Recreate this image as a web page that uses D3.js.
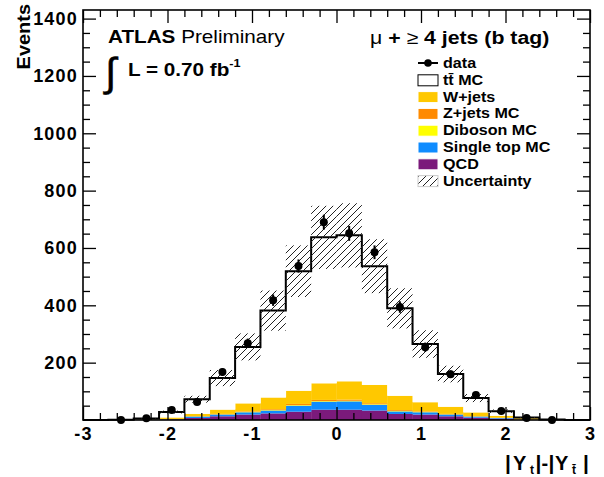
<!DOCTYPE html>
<html>
<head>
<meta charset="utf-8">
<script src="https://cdn.jsdelivr.net/npm/d3@7"></script>
<style>
  body { margin: 0; background: #fff; }
  text { font-family: "Liberation Sans", Arial, sans-serif; }
</style>
</head>
<body>
<div class="chart"></div>
<script>
// bin centers of |Y_t|-|Y_tbar|, width 0.3
const binCenters = [-2.85, -2.55, -2.25, -1.95, -1.65, -1.35, -1.05, -0.75, -0.45, -0.15,
  0.15, 0.45, 0.75, 1.05, 1.35, 1.65, 1.95, 2.25, 2.55, 2.85];
const binWidth = 0.3;

const qcd       = [0, 0, 0, 2, 7, 13, 19, 23, 29, 36, 36, 33, 21, 19, 13, 8, 5, 1, 0, 0];
const singleTop = [0, 0, 0, 1, 5, 6, 8, 10, 21, 28, 29, 20, 9, 8, 6, 4, 2, 0, 0, 0];
const diboson   = [0, 0, 0.3, 0.3, 0.5, 0.7, 1, 1.5, 2, 2, 2, 2, 1.5, 1, 0.7, 0.5, 0.3, 0.2, 0, 0];
const zjets     = [0, 0, 0.5, 0.5, 1, 1.5, 2, 3, 4, 4, 4, 3.5, 3, 2, 1.5, 1, 0.5, 0.3, 0, 0];
const wjets     = [0, 0.5, 1, 5, 8, 15, 28, 41, 46, 58, 64, 64, 50, 32, 25, 13, 7, 5, 1, 0];
const ttbar     = [0, 0.5, 3, 19, 51, 110, 197, 303, 417, 509, 509, 414, 305, 203, 114, 50, 16, 2, 1, 0];

const dataCounts = [null, 0, 6, 35, 63, 167, 268, 418, 537, 690, 651, 585, 394, 254, 160, 87, 31, 7, 0, null];
const dataErr    = [0, 0, 2, 6, 8, 13, 16, 20, 23, 26, 26, 24, 20, 16, 13, 9, 6, 3, 0, 0];
const uncert     = [0, 0.2, 1, 5, 12, 28, 47, 70, 90, 110, 112, 94, 70, 48, 29, 14, 6, 2, 1, 0];

const yTicks = [200, 400, 600, 800, 1000, 1200, 1400];
const xTicks = [-3, -2, -1, 0, 1, 2, 3];

const seriesKeys = ['qcd', 'singleTop', 'diboson', 'zjets', 'wjets', 'ttbar'];
const seriesColors = {
  qcd: '#7b1a7b', singleTop: '#0f8cff', diboson: '#ffff00',
  zjets: '#ff8a00', wjets: '#ffc800', ttbar: '#ffffff'
};
const legendRows = [
  { label: 'data', type: 'data' },
  { label: 'tt\u0304 MC', type: 'ttbar' },
  { label: 'W+jets', type: 'wjets' },
  { label: 'Z+jets MC', type: 'zjets' },
  { label: 'Diboson MC', type: 'diboson' },
  { label: 'Single top MC', type: 'singleTop' },
  { label: 'QCD', type: 'qcd' },
  { label: 'Uncertainty', type: 'unc' }
];

const W = 604, H = 477;
const mLeft = 83, mRight = 590, mTop = 10, mBottom = 420;
const sx = 1.15; // reference text looks horizontally stretched

const x = d3.scaleLinear().domain([-3, 3]).range([mLeft, mRight]);
const y = d3.scaleLinear().domain([0, 1430]).range([mBottom, mTop]);

const svg = d3.select('.chart').append('svg')
  .attr('width', W).attr('height', H);

const defs = svg.append('defs');
defs.append('pattern')
  .attr('id', 'hatch')
  .attr('patternUnits', 'userSpaceOnUse')
  .attr('width', 7).attr('height', 7)
  .append('path')
  .attr('d', 'M-1,8 L8,-1 M-1,1 L1,-1 M6,8 L8,6')
  .attr('stroke', '#222').attr('stroke-width', 1);

const rows = binCenters.map((c, i) => ({
  c, qcd: qcd[i], singleTop: singleTop[i], diboson: diboson[i],
  zjets: zjets[i], wjets: wjets[i], ttbar: ttbar[i]
}));
const stacked = d3.stack().keys(seriesKeys)(rows);
const totals = stacked[stacked.length - 1].map(d => d[1]);

const plot = svg.append('g');

stacked.forEach(layer => {
  plot.append('g')
    .selectAll('rect')
    .data(layer)
    .enter()
    .append('rect')
    .attr('x', d => x(d.data.c - binWidth / 2))
    .attr('width', d => x(d.data.c + binWidth / 2) - x(d.data.c - binWidth / 2) + 0.3)
    .attr('y', d => y(d[1]))
    .attr('height', d => y(d[0]) - y(d[1]))
    .attr('fill', seriesColors[layer.key]);
});

// total MC step line
const stepPts = [];
binCenters.forEach((c, i) => {
  stepPts.push([x(c - binWidth / 2), y(totals[i])]);
  stepPts.push([x(c + binWidth / 2), y(totals[i])]);
});
plot.append('path')
  .attr('d', d3.line()(stepPts))
  .attr('fill', 'none')
  .attr('stroke', '#000')
  .attr('stroke-width', 2);

// uncertainty band
const uncBins = d3.range(binCenters.length).filter(i => uncert[i] > 0.5);
plot.append('g')
  .selectAll('rect')
  .data(uncBins)
  .enter()
  .append('rect')
  .attr('x', i => x(binCenters[i] - binWidth / 2))
  .attr('width', i => x(binCenters[i] + binWidth / 2) - x(binCenters[i] - binWidth / 2))
  .attr('y', i => y(totals[i] + uncert[i]))
  .attr('height', i => y(Math.max(0, totals[i] - uncert[i])) - y(totals[i] + uncert[i]))
  .attr('fill', 'url(#hatch)');

// data points
const pts = binCenters.map((c, i) => ({ c, v: dataCounts[i], e: dataErr[i] })).filter(d => d.v !== null);
plot.append('g')
  .selectAll('line')
  .data(pts.filter(d => d.e > 0))
  .enter()
  .append('line')
  .attr('x1', d => x(d.c)).attr('x2', d => x(d.c))
  .attr('y1', d => y(d.v - d.e)).attr('y2', d => y(d.v + d.e))
  .attr('stroke', '#000').attr('stroke-width', 2);
plot.append('g')
  .selectAll('circle')
  .data(pts)
  .enter()
  .append('circle')
  .attr('cx', d => x(d.c))
  .attr('cy', d => y(d.v))
  .attr('r', 4)
  .attr('fill', '#000');

// axes (ticks inside, mirrored on top/right)
const minorX = d3.range(-3, 3.001, 0.2).map(v => +v.toFixed(1)).filter(v => !xTicks.includes(v));
const minorY = d3.range(50, 1430, 50).filter(v => v % 200 !== 0);

function styleAxis(g) {
  g.select('.domain').remove();
  g.selectAll('line').attr('stroke', '#000').attr('stroke-width', 1.3);
}

svg.append('g').attr('transform', `translate(0,${mBottom})`)
  .call(d3.axisBottom(x).tickValues(minorX).tickSize(-7).tickFormat(''))
  .call(styleAxis);
const xAxis = svg.append('g').attr('transform', `translate(0,${mBottom})`)
  .call(d3.axisBottom(x).tickValues(xTicks).tickSize(-13).tickPadding(7).tickFormat(d3.format('d')))
  .call(styleAxis);
xAxis.selectAll('text')
  .attr('font-size', 18).attr('font-weight', 'bold').attr('fill', '#000')
  .attr('font-family', '"Liberation Sans", Arial, sans-serif')
  .attr('letter-spacing', 1.2)
  .text(d => d < 0 ? '-' + Math.abs(d) : d);

svg.append('g').attr('transform', `translate(0,${mTop})`)
  .call(d3.axisTop(x).tickValues(minorX).tickSize(-7).tickFormat(''))
  .call(styleAxis);
svg.append('g').attr('transform', `translate(0,${mTop})`)
  .call(d3.axisTop(x).tickValues(xTicks).tickSize(-13).tickFormat(''))
  .call(styleAxis);

svg.append('g').attr('transform', `translate(${mLeft},0)`)
  .call(d3.axisLeft(y).tickValues(minorY).tickSize(-7).tickFormat(''))
  .call(styleAxis);
const yAxis = svg.append('g').attr('transform', `translate(${mLeft},0)`)
  .call(d3.axisLeft(y).tickValues(yTicks).tickSize(-13).tickPadding(5).tickFormat(d3.format('d')))
  .call(styleAxis);
yAxis.selectAll('text')
  .attr('font-size', 18).attr('font-weight', 'bold').attr('fill', '#000')
  .attr('font-family', '"Liberation Sans", Arial, sans-serif')
  .attr('letter-spacing', 1.2);

svg.append('g').attr('transform', `translate(${mRight},0)`)
  .call(d3.axisRight(y).tickValues(minorY).tickSize(-7).tickFormat(''))
  .call(styleAxis);
svg.append('g').attr('transform', `translate(${mRight},0)`)
  .call(d3.axisRight(y).tickValues(yTicks).tickSize(-13).tickFormat(''))
  .call(styleAxis);

// frame
svg.append('rect')
  .attr('x', mLeft).attr('y', mTop)
  .attr('width', mRight - mLeft).attr('height', mBottom - mTop)
  .attr('fill', 'none').attr('stroke', '#000').attr('stroke-width', 1.6);

// helper for stretched text
function label(px, py, size, weight, anchor) {
  return svg.append('text')
    .attr('transform', `translate(${px},${py}) scale(${sx},1)`)
    .attr('font-size', size)
    .attr('font-weight', weight)
    .attr('text-anchor', anchor || 'start')
    .attr('fill', '#000');
}

// y title
svg.append('text')
  .attr('transform', `translate(30,4) rotate(-90) scale(1.05,1)`)
  .attr('text-anchor', 'end')
  .attr('font-size', 19).attr('font-weight', 'bold')
  .text('Events');

// x title  |Y_t|-|Y_tbar|
const xt = svg.append('text')
  .attr('font-size', 20).attr('font-weight', 'bold').attr('fill', '#000');
xt.append('tspan').attr('x', 505).attr('y', 470).attr('font-size', 21).text('|');
xt.append('tspan').attr('x', 513).attr('y', 470).text('Y');
xt.append('tspan').attr('x', 530).attr('y', 474).attr('font-size', 12).text('t');
xt.append('tspan').attr('x', 535.5).attr('y', 470).attr('font-size', 21).text('|');
xt.append('tspan').attr('x', 541.5).attr('y', 470).text('-');
xt.append('tspan').attr('x', 548.5).attr('y', 470).attr('font-size', 21).text('|');
xt.append('tspan').attr('x', 555).attr('y', 470).text('Y');
xt.append('tspan').attr('x', 572).attr('y', 474).attr('font-size', 12).text('t\u0304');
xt.append('tspan').attr('x', 583).attr('y', 470).attr('font-size', 21).text('|');

// ATLAS Preliminary
const at = label(108, 43, 18, 'bold');
at.append('tspan').text('ATLAS');
at.append('tspan').attr('font-weight', 'normal').text(' Preliminary');

// luminosity
svg.append('text')
  .attr('x', 105).attr('y', 86)
  .attr('font-size', 40).attr('font-family', '"Liberation Sans", sans-serif')
  .attr('stroke', '#000').attr('stroke-width', 0.5)
  .text('\u222B');
const lum = label(128, 76, 18, 'bold');
lum.append('tspan').text('L = 0.70 fb');
lum.append('tspan').attr('font-size', 11).attr('dy', -9).text('-1');

// channel
const ch = label(370, 44, 18.5, 'bold');
ch.append('tspan').attr('font-weight', 'normal').text('\u03BC');
ch.append('tspan').text(' + ');
ch.append('tspan').attr('font-weight', 'normal').text('\u2265');
ch.append('tspan').text(' 4 jets (b tag)');

// legend
const legX = 418, legY0 = 63, legDy = 16.8;
const leg = svg.append('g');
legendRows.forEach((r, i) => {
  const cy = legY0 + i * legDy;
  if (r.type === 'data') {
    leg.append('line')
      .attr('x1', legX).attr('x2', legX + 20).attr('y1', cy).attr('y2', cy)
      .attr('stroke', '#000').attr('stroke-width', 2);
    leg.append('circle').attr('cx', legX + 10).attr('cy', cy).attr('r', 3.8).attr('fill', '#000');
  } else if (r.type === 'unc') {
    leg.append('rect')
      .attr('x', legX).attr('y', cy - 5).attr('width', 20).attr('height', 11)
      .attr('fill', 'url(#hatch)').attr('stroke', '#ccc').attr('stroke-width', 1);
  } else {
    leg.append('rect')
      .attr('x', legX).attr('y', cy - 5).attr('width', 20).attr('height', 11)
      .attr('fill', seriesColors[r.type])
      .attr('stroke', r.type === 'ttbar' ? '#000' : '#fff')
      .attr('stroke-width', 1);
  }
  label(443, cy + 5, 14, 'bold').text(r.label);
});
</script>
</body>
</html>
